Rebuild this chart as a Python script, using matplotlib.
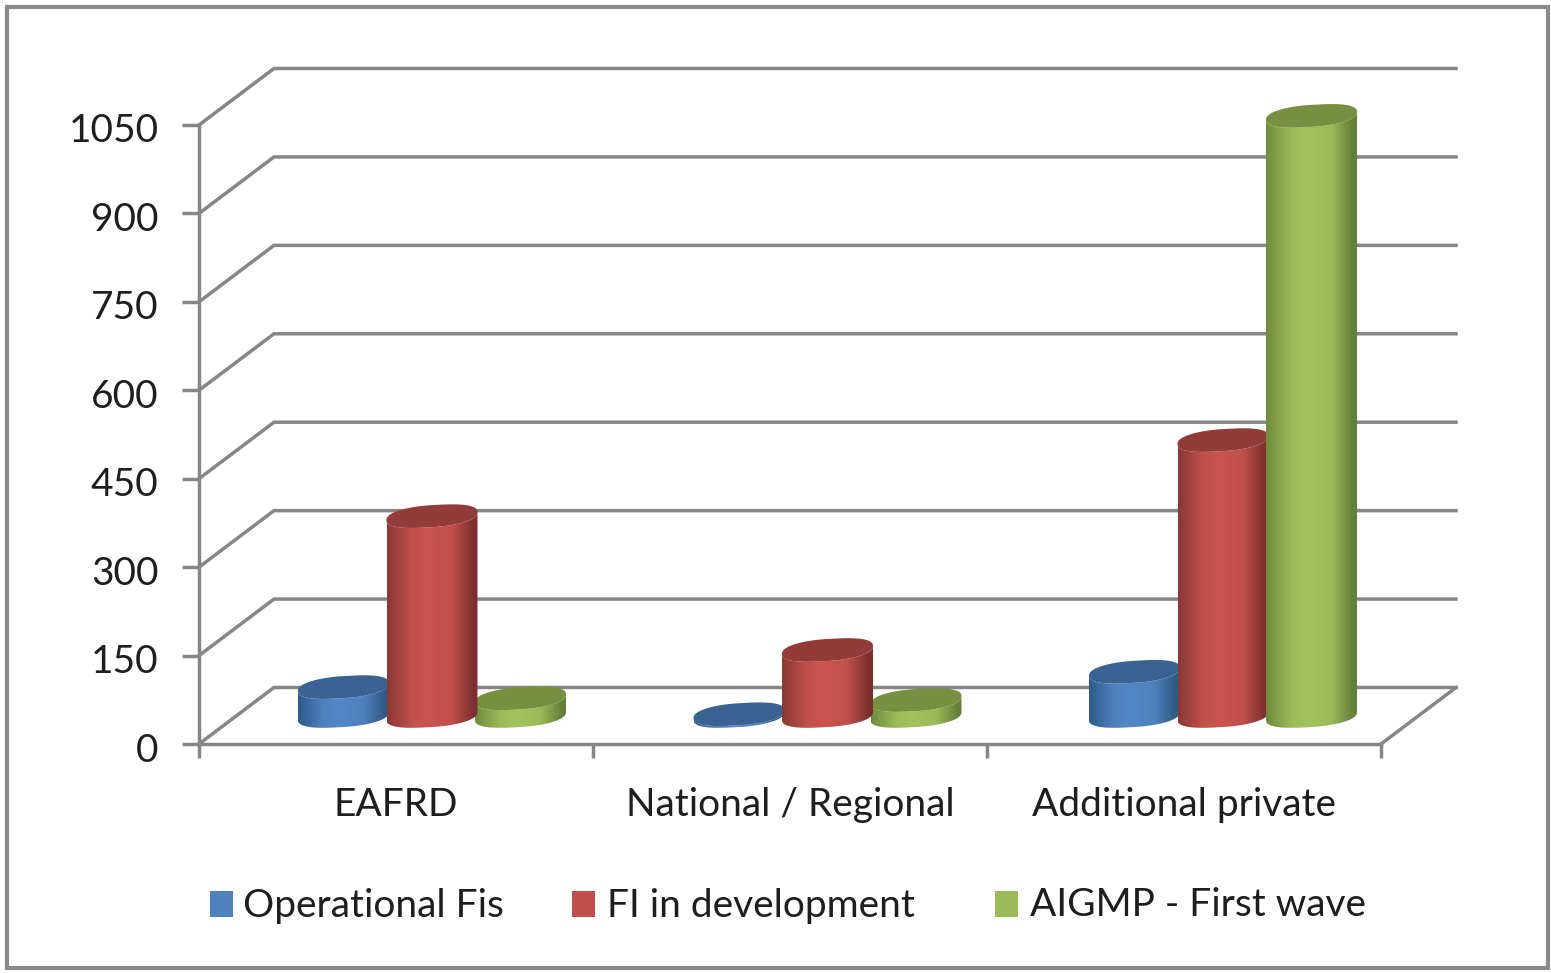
import numpy as np
import matplotlib
matplotlib.use('Agg')
import matplotlib.pyplot as plt
from matplotlib.colors import LinearSegmentedColormap
from matplotlib.patches import Polygon, Rectangle
from matplotlib.transforms import ScaledTranslation

W = 1551
H = 973

categories = ['EAFRD', 'National / Regional', 'Additional private']
series_names = ['Operational Fis', 'FI in development', 'AIGMP - First wave']
operational = [49, 3, 75]
in_development = [339, 112, 468]
first_wave = [30, 27, 1018]
y_ticks = [0, 150, 300, 450, 600, 750, 900, 1050]

swatch = ['#4f81bd', '#c0504d', '#9bbb59']
edge_left = ['#2f5a8c', '#8c3836', '#6f8c3c']
edge_right = ['#2f5a84', '#7c302e', '#64803a']
middle = ['#5287c8', '#cb534f', '#a2c25c']
top_col = ['#3a6292', '#933b39', '#768f40']

# legend layout in pixels
swatch_left = [210, 572, 995]
legend_text_left = [243, 607, 1030]

GRID = '#868686'
TEXT = '#1e1e1e'
FONT = 'Lato'
FS = 28

plt.rcParams['font.family'] = [FONT, 'DejaVu Sans']

fig = plt.figure(figsize=(W / 100, H / 100), dpi=100)
ax = fig.add_axes([199 / W, 1 - 744 / H, 1182 / W, 619 / H])
ax.set_xlim(0, 3)
ax.set_ylim(0, 1050)

# data units per pixel
px_x = 3 / 1182
px_y = 1050 / 619
depth_x = 75 * px_x
depth_y = 56.5 * px_y

# outer frame
fig.add_artist(Rectangle((7 / W, 1 - 968 / H), 1541 / W, 961 / H, fill=False,
                         edgecolor='#8a8a8a', linewidth=3,
                         transform=fig.transFigure))

# back wall, side wall and floor
for v in y_ticks:
    ax.plot([0, depth_x, 3 + depth_x], [v, v + depth_y, v + depth_y],
            color=GRID, lw=2.5, clip_on=False, zorder=1,
            solid_joinstyle='miter')
ax.plot([3, 3 + depth_x], [0, depth_y], color=GRID, lw=2.5, clip_on=False,
        zorder=1)

for s in ['top', 'right']:
    ax.spines[s].set_visible(False)
for s in ['left', 'bottom']:
    ax.spines[s].set_color(GRID)
    ax.spines[s].set_linewidth(2.5)
    ax.spines[s].set_zorder(2)

ax.set_yticks(y_ticks)
ax.set_yticklabels([str(v) for v in y_ticks], fontsize=FS, color=TEXT)
ax.tick_params(axis='y', length=12, width=2.5, color=GRID, pad=17)
# numbers sit a bit under their ticks in the original
for label in ax.get_yticklabels():
    label.set_transform(label.get_transform() +
                        ScaledTranslation(0, -3 / 100, fig.dpi_scale_trans))
ax.set_xticks([0, 1, 2, 3])
ax.set_xticklabels([])
ax.tick_params(axis='x', which='major', length=10, width=2.5, color=GRID)
ax.set_xticks([0.5, 1.5, 2.5], minor=True)
ax.set_xticklabels(categories, minor=True, fontsize=FS, color=TEXT)
ax.tick_params(axis='x', which='minor', length=0, pad=31)


def rounded(t, p=0.85):
    return np.sign(t) * np.abs(t) ** p


def draw_cylinder(xc, value, n, z):
    # pseudo 3D cylinder, ellipses are tilted like the Excel ones
    a = 45.5
    b = 11
    tilt = 4
    base = 28 * px_y
    t = np.linspace(0, 2 * np.pi, 200)
    ex = a * rounded(np.cos(t)) * px_x
    ey = (b * rounded(np.sin(t)) + tilt * np.cos(t)) * px_y

    low = t >= np.pi
    lx = xc + ex[low]
    ly = ey[low]
    side = np.column_stack([np.concatenate([lx, lx[::-1]]),
                            np.concatenate([base + ly,
                                            value + base + ly[::-1]])])
    body = Polygon(side, closed=True, facecolor='none', edgecolor='none',
                   clip_on=False)
    ax.add_patch(body)

    cmap = LinearSegmentedColormap.from_list('cyl', [
        (0, edge_left[n]), (0.27, swatch[n]), (0.45, middle[n]),
        (0.72, swatch[n]), (0.96, edge_right[n]), (1, edge_right[n])])
    img = ax.imshow(np.linspace(0, 1, 90).reshape(1, -1), cmap=cmap,
                    aspect='auto', zorder=z, interpolation='bilinear',
                    extent=[xc - a * px_x, xc + a * px_x,
                            base - 20 * px_y, value + base + 20 * px_y])
    # the tallest bar goes above the axes box, so drop the box clip
    img.set_clip_box(fig.bbox)
    img.set_clip_path(body)

    ax.add_patch(Polygon(np.column_stack([xc + ex, value + base + ey]),
                         closed=True, facecolor=top_col[n], edgecolor='none',
                         zorder=z + 0.01, clip_on=False))


all_series = [operational, in_development, first_wave]
step = 88.5 * px_x
group_step = 395.5 * px_x
for c in range(len(categories)):
    values = [s[c] for s in all_series]
    # lower cylinders go behind the taller neighbours
    for rank, n in enumerate(np.argsort(values)):
        xc = 1.5 + (c - 1) * group_step + depth_x / 2 + (n - 1) * step
        draw_cylinder(xc, values[n], n, 3 + rank)

ax.set_xlim(0, 3)
ax.set_ylim(0, 1050)

# legend placed by hand, the column gaps are not even in the original
for i in range(3):
    fig.add_artist(Rectangle((swatch_left[i] / W, 1 - 917 / H), 23 / W, 26 / H,
                             facecolor=swatch[i], edgecolor='none',
                             transform=fig.transFigure))
    fig.text(legend_text_left[i] / W, 1 - 902 / H, series_names[i],
             fontsize=FS, color=TEXT, va='center_baseline', ha='left')

fig.savefig('out.png', dpi=100, facecolor='white')
